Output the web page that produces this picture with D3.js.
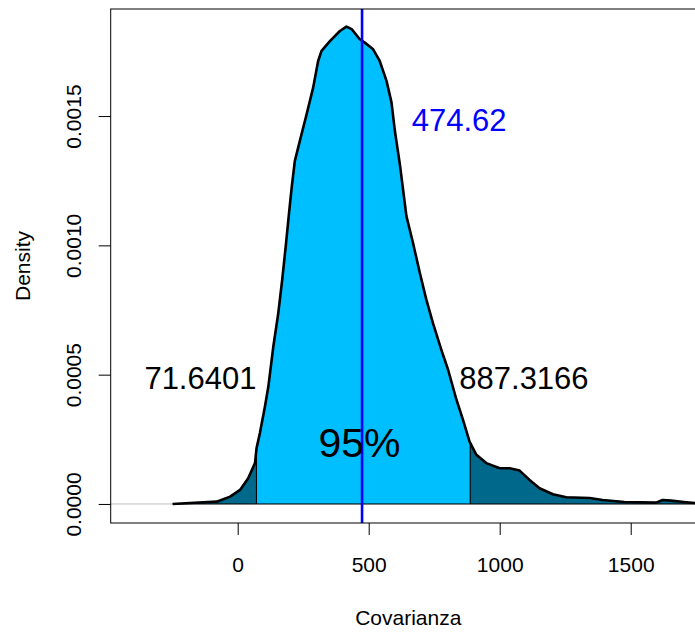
<!DOCTYPE html>
<html>
<head>
<meta charset="utf-8">
<script src="https://cdn.jsdelivr.net/npm/d3@7"></script>
<style>
  html, body { margin: 0; padding: 0; background: #fff; }
  svg { display: block; font-family: "Liberation Sans", Arial, sans-serif; }
</style>
</head>
<body>
<svg id="chart" width="695" height="632"></svg>
<script>
// ---- data ----
const densX = [-248, -182, -80, -29, 9, 40, 66, 72, 85, 104, 117, 136, 155, 170, 184, 196, 206, 218, 237, 263, 288, 307, 320, 352, 390, 415, 435, 466, 485, 517, 542, 568, 587, 600, 619, 644, 669, 695, 720, 745, 777, 803, 835, 860, 885, 911, 949, 1000, 1038, 1076, 1114, 1152, 1203, 1254, 1343, 1393, 1476, 1597, 1622, 1654, 1711, 1762, 1800];
const densY = [0, 0.0000039, 0.0000089, 0.0000283, 0.0000542, 0.0000995, 0.000158, 0.000216, 0.000275, 0.000377, 0.000454, 0.000609, 0.000739, 0.000868, 0.001003, 0.001126, 0.001223, 0.001326, 0.001403, 0.001507, 0.00161, 0.001713, 0.001752, 0.00179, 0.001829, 0.001846, 0.001836, 0.001797, 0.001784, 0.001758, 0.001713, 0.001636, 0.001553, 0.001442, 0.001313, 0.001113, 0.00101, 0.000894, 0.00079, 0.0007, 0.000597, 0.000519, 0.000403, 0.000325, 0.000241, 0.00019, 0.000158, 0.000138, 0.000138, 0.000129, 0.000093, 0.0000608, 0.0000376, 0.0000259, 0.0000232, 0.0000155, 0.0000077, 0.000005, 0.0000155, 0.0000128, 0.0000066, 0.000002, 0];
const lowerCI = 71.6401;
const upperCI = 887.3166;
const meanVal = 474.62;
const ciLabel = "95%";
const xTicks = [0, 500, 1000, 1500];
const yTicks = [0, 0.0005, 0.0010, 0.0015];
const yTickLabels = ["0.0000", "0.0005", "0.0010", "0.0015"];
const xTitle = "Covarianza";
const yTitle = "Density";

// ---- layout ----
const svg = d3.select("#chart");
const pL = 110.7, pR = 705.9, pT = 9, pB = 523;
const x = d3.scaleLinear().domain([-484.7, 1787]).range([pL, pR]);
const y = d3.scaleLinear().domain([-0.0000736, 0.001914]).range([pB, pT]);

const pts = densX.map((v, i) => [v, densY[i]]);
function interp(v) {
  for (let i = 1; i < pts.length; i++) {
    if (pts[i][0] >= v) {
      const [x0, y0] = pts[i - 1], [x1, y1] = pts[i];
      return y0 + (y1 - y0) * (v - x0) / (x1 - x0);
    }
  }
  return 0;
}
function region(a, b) {
  const inner = pts.filter(p => p[0] > a && p[0] < b);
  return [[a, 0], [a, interp(a)], ...inner, [b, interp(b)], [b, 0]];
}

svg.append("clipPath").attr("id", "plotclip")
  .append("rect").attr("x", pL).attr("y", pT).attr("width", pR - pL).attr("height", pB - pT);

const g = svg.append("g").attr("clip-path", "url(#plotclip)");

// zero line
g.append("line").attr("x1", pL).attr("x2", pR)
  .attr("y1", y(0)).attr("y2", y(0)).attr("stroke", "#bebebe").attr("stroke-width", 1);

const line = d3.line().x(d => x(d[0])).y(d => y(d[1]));
const poly = d => line(d) + "Z";

const firstX = densX[0], lastX = densX[densX.length - 1];
g.append("path").attr("d", poly(region(firstX, lowerCI)))
  .attr("fill", "#00688B").attr("stroke", "#000").attr("stroke-width", 1);
g.append("path").attr("d", poly(region(upperCI, lastX)))
  .attr("fill", "#00688B").attr("stroke", "#000").attr("stroke-width", 1);
g.append("path").attr("d", poly(region(lowerCI, upperCI)))
  .attr("fill", "#00BFFF").attr("stroke", "#000").attr("stroke-width", 1);

// density curve
g.append("path").attr("d", line(pts)).attr("fill", "none")
  .attr("stroke", "#000").attr("stroke-width", 2.6).attr("stroke-linejoin", "round");

// labels inside
svg.append("text").attr("x", 359.5).attr("y", 456.5).attr("text-anchor", "middle")
  .attr("font-size", 41).attr("fill", "#000").text(ciLabel);
svg.append("text").attr("x", x(lowerCI)).attr("y", 389).attr("text-anchor", "end")
  .attr("font-size", 31).attr("fill", "#000").text(String(lowerCI));
svg.append("text").attr("x", 459.3).attr("y", 388.5).attr("text-anchor", "start")
  .attr("font-size", 31).attr("fill", "#000").text(String(upperCI));
svg.append("text").attr("x", 411.7).attr("y", 131).attr("text-anchor", "start")
  .attr("font-size", 31).attr("fill", "#0000FF").text(String(meanVal));

// mean line
g.append("line").attr("x1", x(meanVal)).attr("x2", x(meanVal))
  .attr("y1", pT).attr("y2", pB).attr("stroke", "#0000FF").attr("stroke-width", 2.6);

// box
svg.append("rect").attr("x", pL).attr("y", pT).attr("width", pR - pL).attr("height", pB - pT)
  .attr("fill", "none").attr("stroke", "#000").attr("stroke-width", 1);

// axes
const xAxis = svg.append("g").attr("transform", `translate(0,${pB})`)
  .call(d3.axisBottom(x).tickValues(xTicks).tickSize(12).tickPadding(22).tickFormat(d3.format("d")));
xAxis.select(".domain").remove();
xAxis.selectAll("text").attr("font-size", 21).attr("font-family", "Liberation Sans, Arial, sans-serif").attr("fill", "#000");
xAxis.selectAll("line").attr("stroke", "#000");

const yAxis = svg.append("g").attr("transform", `translate(${pL},0)`)
  .call(d3.axisLeft(y).tickValues(yTicks).tickSize(12).tickFormat((d, i) => yTickLabels[i]));
yAxis.select(".domain").remove();
yAxis.selectAll("line").attr("stroke", "#000");
yAxis.selectAll("text")
  .attr("font-size", 21).attr("font-family", "Liberation Sans, Arial, sans-serif").attr("fill", "#000")
  .attr("text-anchor", "middle")
  .attr("transform", "translate(-37.5,0) rotate(-90)").attr("x", 0).attr("y", 0).attr("dy", "0.35em");

// titles
svg.append("text").attr("x", 408.3).attr("y", 625).attr("text-anchor", "middle")
  .attr("font-size", 21).attr("fill", "#000").text(xTitle);
svg.append("text").attr("transform", `translate(29.5,${(pT + pB) / 2}) rotate(-90)`)
  .attr("text-anchor", "middle").attr("font-size", 21).attr("fill", "#000").text(yTitle);
</script>
</body>
</html>
